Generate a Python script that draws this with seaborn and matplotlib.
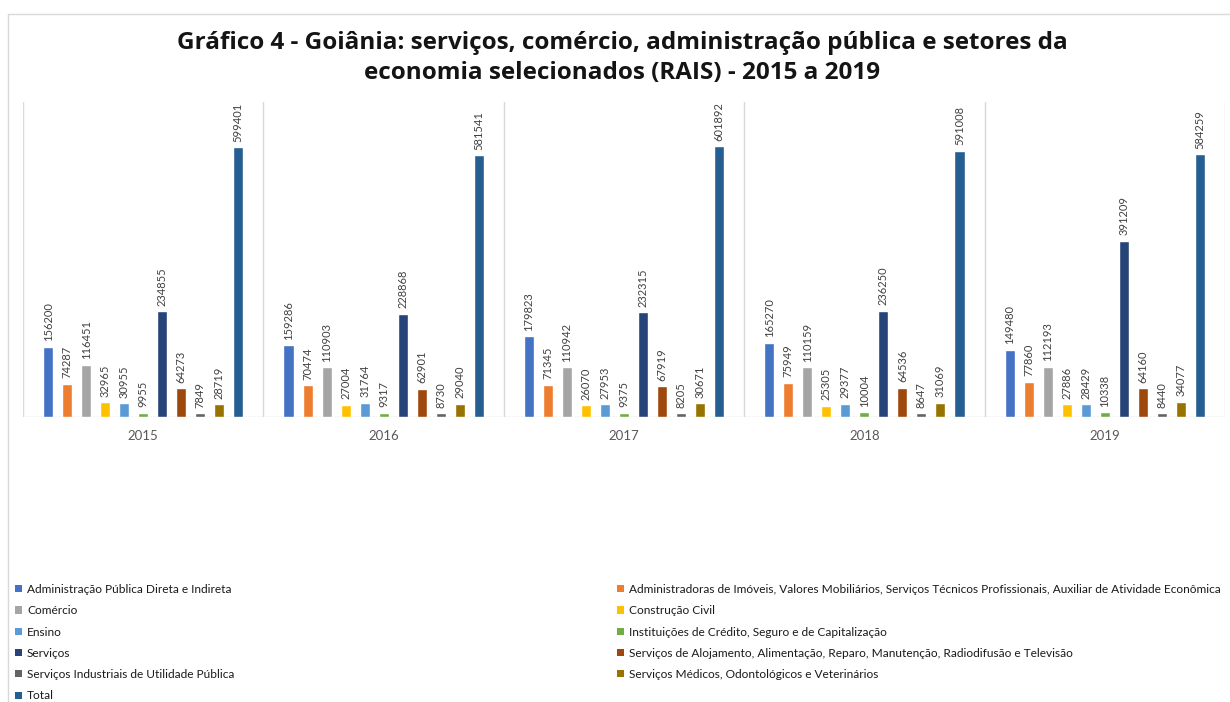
import matplotlib
matplotlib.use("Agg")
import matplotlib.pyplot as plt
from matplotlib.lines import Line2D
from matplotlib.patches import Patch
import seaborn as sns
import pandas as pd

# Sectors (series) and years (categories)
sectors = [
    "Administração Pública Direta e Indireta",
    "Administradoras de Imóveis, Valores Mobiliários, Serviços Técnicos Profissionais, Auxiliar de Atividade Econômica",
    "Comércio",
    "Construção Civil",
    "Ensino",
    "Instituições de Crédito, Seguro e de Capitalização",
    "Serviços",
    "Serviços de Alojamento, Alimentação, Reparo, Manutenção, Radiodifusão e Televisão",
    "Serviços Industriais de Utilidade Pública",
    "Serviços Médicos, Odontológicos e Veterinários",
    "Total",
]
years = ["2015", "2016", "2017", "2018", "2019"]

# Employment per sector, one list per year (same order as sectors)
v2015 = [156200, 74287, 116451, 32965, 30955, 9955, 234855, 64273, 7849, 28719, 599401]
v2016 = [159286, 70474, 110903, 27004, 31764, 9317, 228868, 62901, 8730, 29040, 581541]
v2017 = [179823, 71345, 110942, 26070, 27953, 9375, 232315, 67919, 8205, 30671, 601892]
v2018 = [165270, 75949, 110159, 25305, 29377, 10004, 236250, 64536, 8647, 31069, 591008]
v2019 = [149480, 77860, 112193, 27886, 28429, 10338, 391209, 64160, 8440, 34077, 584259]

colors = ["#4472C4", "#ED7D31", "#A5A5A5", "#FFC000", "#5B9BD5", "#70AD47",
          "#264478", "#9E480E", "#636363", "#997300", "#255E91"]

rows = []
for yr, vals in zip(years, [v2015, v2016, v2017, v2018, v2019]):
    for s, v in zip(sectors, vals):
        rows.append({"ano": yr, "setor": s, "valor": v})
df = pd.DataFrame(rows)

sns.set_theme(style="white")
plt.rcParams["font.family"] = ["Lato", "DejaVu Sans"]

W, H = 1230, 702
fig = plt.figure(figsize=(W / 100, H / 100), dpi=100)
fig.patch.set_facecolor("white")

# chart border (left and top edges)
fig.add_artist(Line2D([8 / W, 8 / W], [0, 1 - 14 / H], color="#D9D9D9", lw=1))
fig.add_artist(Line2D([8 / W, 1.0], [1 - 14 / H, 1 - 14 / H], color="#D9D9D9", lw=1))

ax_l, ax_r, ax_t, ax_b = 23, 1225, 102, 417
ax = fig.add_axes([ax_l / W, 1 - ax_b / H, (ax_r - ax_l) / W, (ax_b - ax_t) / H])

sns.barplot(data=df, x="ano", y="valor", hue="setor", order=years, hue_order=sectors,
            palette=colors, errorbar=None, width=0.87, gap=0.47, ax=ax,
            saturation=1, legend=False)

ax.set_xlim(-0.5, len(years) - 0.5)
ax.set_ylim(0, 700000)
for sp in ax.spines.values():
    sp.set_visible(False)
ax.axhline(0, color="#D9D9D9", lw=1, zorder=0)
for i in range(len(years) + 1):
    ax.axvline(i - 0.5, color="#D9D9D9", lw=1, zorder=0)
ax.set_yticks([])
ax.set_xlabel("")
ax.set_ylabel("")
ax.tick_params(axis="x", length=0, pad=9, labelsize=9.5, labelcolor="#595959")

for cont in ax.containers:
    ax.bar_label(cont, labels=[f"{int(b.get_height())}" for b in cont],
                 rotation=90, padding=4, fontsize=8, color="#404040")

fig.text(0.5058, 1 - 58 / H,
         "Gráfico 4 - Goiânia: serviços, comércio, administração pública e setores da\n"
         "economia selecionados (RAIS) - 2015 a 2019",
         ha="center", va="center", fontsize=17.5, fontweight="bold",
         family=["Open Sans", "DejaVu Sans"], color="#141414", linespacing=1.32)

# Legend: two columns, filled row by row
handles = [Patch(facecolor=c, edgecolor="none") for c in colors]
left_idx = [0, 2, 4, 6, 8, 10]
right_idx = [1, 3, 5, 7, 9]
leg_kw = dict(frameon=False, fontsize=8.6, handlelength=0.55, handleheight=0.55,
              handletextpad=0.45, labelspacing=0.86, borderaxespad=0, borderpad=0,
              labelcolor="#1A1A1A")
leg1 = fig.legend([handles[i] for i in left_idx], [sectors[i] for i in left_idx],
                  loc="upper left", bbox_to_anchor=(15 / W, 1 - 584 / H), **leg_kw)
leg2 = fig.legend([handles[i] for i in right_idx], [sectors[i] for i in right_idx],
                  loc="upper left", bbox_to_anchor=(617 / W, 1 - 584 / H), **leg_kw)

fig.savefig("out.png", dpi=100, facecolor="white")
